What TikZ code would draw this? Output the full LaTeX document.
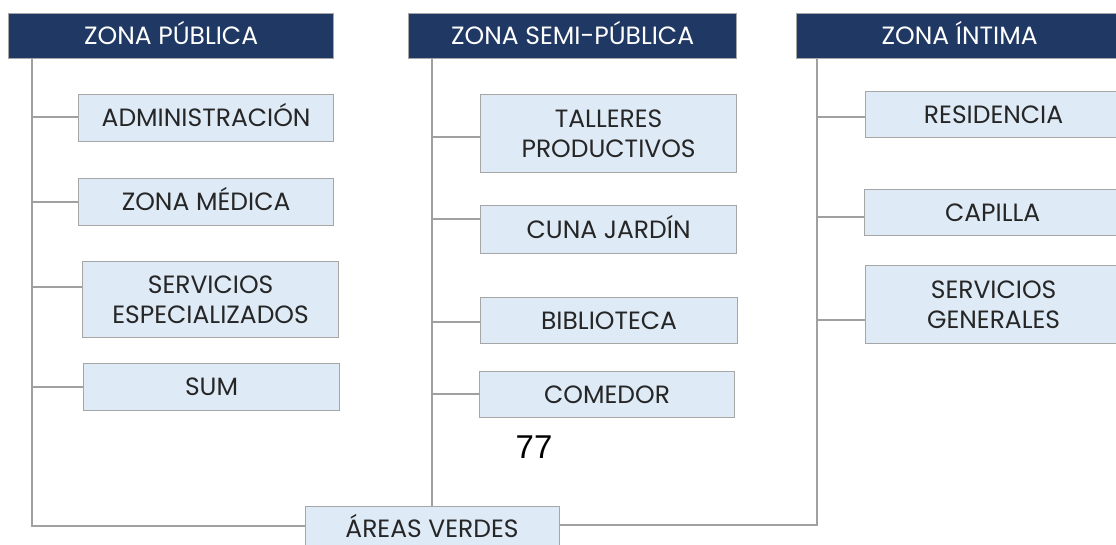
\documentclass[tikz,border=0pt]{standalone}
\usepackage{fontspec}
\setmainfont{Poppins}
\newfontfamily\numfont{Liberation Sans}
\definecolor{navy}{HTML}{203864}
\definecolor{boxfill}{HTML}{DEEAF6}
\definecolor{boxline}{HTML}{A6A6A6}
\definecolor{linegray}{HTML}{A0A0A0}
\tikzset{
  hdr/.style={draw=boxline, line width=1.2pt, fill=navy, text=white, font=\fontsize{25}{30}\selectfont, anchor=north west, inner sep=0pt, align=center, oneline},
  item/.style={draw=boxline, line width=1.2pt, fill=boxfill, text=black!85, font=\fontsize{25}{30}\selectfont, anchor=north west, inner sep=0pt, align=center},
  oneline/.style={text height=17.5pt, text depth=0pt},
  conn/.style={draw=linegray, line width=1.2pt}
}
\begin{document}
\begin{tikzpicture}[x=1pt,y=-1pt]
\clip (0,0) rectangle (1116,545);
\fill[white] (0,0) rectangle (1116,545);
% headers
\node[hdr, minimum width=325pt, minimum height=45pt] (h1) at (8,13) {ZONA PÚBLICA};
\node[hdr, minimum width=328pt, minimum height=45pt] (h2) at (408,13) {ZONA SEMI-PÚBLICA};
\node[hdr, minimum width=326pt, minimum height=45pt] (h3) at (796,13) {ZONA ÍNTIMA};
% column 1
\node[item, oneline, minimum width=255pt, minimum height=47pt] (a1) at (78,94) {ADMINISTRACIÓN};
\node[item, oneline, minimum width=255pt, minimum height=47pt] (a2) at (78,178) {ZONA MÉDICA};
\node[item, minimum width=256pt, minimum height=76pt] (a3) at (82,261) {SERVICIOS\\ESPECIALIZADOS};
\node[item, oneline, minimum width=256pt, minimum height=47pt] (a4) at (83,363) {SUM};
% column 2
\node[item, minimum width=256pt, minimum height=78pt] (b1) at (480,94) {TALLERES\\PRODUCTIVOS};
\node[item, oneline, minimum width=256pt, minimum height=48pt] (b2) at (480,205) {CUNA JARDÍN};
\node[item, oneline, minimum width=257pt, minimum height=46pt] (b3) at (480,297) {BIBLIOTECA};
\node[item, oneline, minimum width=255pt, minimum height=46pt] (b4) at (479,371) {COMEDOR};
% column 3
\node[item, oneline, minimum width=256pt, minimum height=46pt] (c1) at (865,91) {RESIDENCIA};
\node[item, oneline, minimum width=256pt, minimum height=46pt] (c2) at (864,189) {CAPILLA};
\node[item, minimum width=256pt, minimum height=78pt] (c3) at (865,265) {SERVICIOS\\GENERALES};
% areas verdes
\node[item, minimum width=254pt, minimum height=60pt] (av) at (305,506) {};
\node[font=\fontsize{25}{30}\selectfont, text=black!85, inner sep=0pt, anchor=base] (avt) at (432,537) {ÁREAS VERDES};
% number
\node[font=\numfont\fontsize{33}{36}\selectfont, inner sep=0pt] (num) at (534,447) {77};
% connectors
\coordinate (v1b) at (32,526);
\coordinate (v3b) at (817,525);
\draw[conn] (h1.south west -| v1b) -- (v1b) -- (av.west |- v1b);
\draw[conn] (av.east |- v3b) -- (v3b) -- (h3.south west -| v3b);
\draw[conn] (h2.south west -| 432,0) -- (av.north -| 432,0);
\foreach \n/\y in {a1/117,a2/202,a3/287,a4/387}{\draw[conn] (32,\y) -- (\n.west |- 0,\y);}
\foreach \n/\y in {b1/137,b2/219,b3/322,b4/394}{\draw[conn] (432,\y) -- (\n.west |- 0,\y);}
\foreach \n/\y in {c1/117,c2/217,c3/320}{\draw[conn] (817,\y) -- (\n.west |- 0,\y);}
\end{tikzpicture}
\end{document}
